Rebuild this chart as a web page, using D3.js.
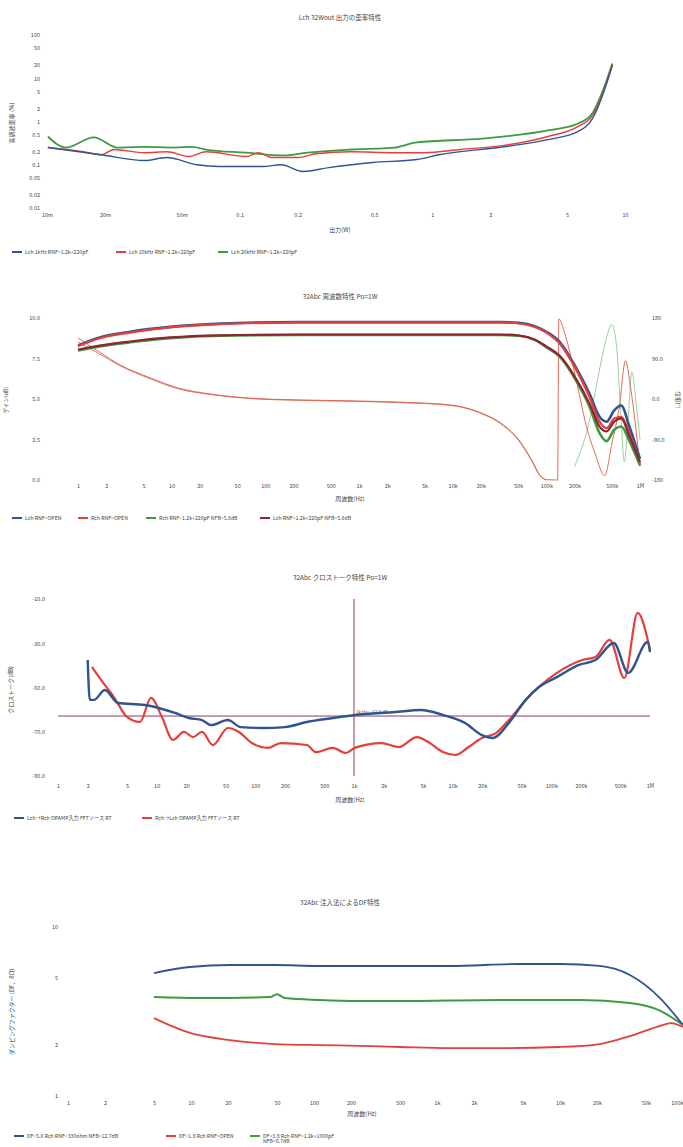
<!DOCTYPE html>
<html>
<head>
<meta charset="utf-8">
<script src="https://cdn.jsdelivr.net/npm/d3@7"></script>
<style>
  body { margin: 0; background: #fff; }
  svg text { font-family: "Noto Sans CJK JP", "Noto Sans", sans-serif; fill: #444; }
</style>
</head>
<body>
<div id="chart"></div>
<script>
// ---- chart 1 : THD vs output power ----
const thdTicksX = [0.01, 0.02, 0.05, 0.1, 0.2, 0.5, 1, 2, 5, 10];
const thdTickLabelsX = ["10m", "20m", "50m", "0.1", "0.2", "0.5", "1", "2", "5", "10"];
const thdTicksY = [100, 50, 20, 10, 5, 2, 1, 0.5, 0.2, 0.1, 0.05, 0.02, 0.01];
const thdTickLabelsY = ["100", "50", "20", "10", "5", "2", "1", "0.5", "0.2", "0.1", "0.05", "0.02", "0.01"];
const thd1k = [[0.0101,0.25],[0.0191,0.17],[0.0322,0.125],[0.0419,0.147],[0.06,0.1],[0.078,0.091],[0.132,0.091],[0.164,0.1],[0.213,0.07],[0.29,0.086],[0.49,0.113],[0.83,0.132],[1.08,0.17],[2.35,0.26],[3.98,0.38],[5.72,0.59],[6.8,1.2],[7.5,3.2],[8.1,8.5],[8.6,20]];
const thd10k = [[0.0101,0.25],[0.0154,0.2],[0.0191,0.17],[0.0223,0.225],[0.0322,0.19],[0.0419,0.2],[0.0546,0.155],[0.0668,0.2],[0.108,0.155],[0.126,0.19],[0.147,0.147],[0.201,0.147],[0.249,0.18],[0.378,0.2],[0.64,0.19],[0.91,0.19],[1.4,0.225],[2.35,0.28],[3.98,0.45],[5.72,0.77],[6.8,1.4],[7.5,3.5],[8.1,9],[8.6,21]];
const thd20k = [[0.0101,0.45],[0.0125,0.25],[0.0175,0.43],[0.0233,0.25],[0.0322,0.26],[0.046,0.25],[0.057,0.26],[0.0668,0.225],[0.108,0.19],[0.171,0.164],[0.223,0.19],[0.378,0.225],[0.64,0.25],[0.83,0.33],[1.81,0.4],[3.98,0.62],[5.72,0.9],[6.8,1.6],[7.5,4],[8.1,10],[8.6,22]];
const thdLegend = ["Lch 1kHz RNF=1.2k+220pF", "Lch 10kHz RNF=1.2k+220pF", "Lch 20kHz RNF=1.2k+220pF"];

// ---- chart 2 : frequency response ----
const freqTicks = [1, 2, 5, 10, 20, 50, 100, 200, 500, 1e3, 2e3, 5e3, 1e4, 2e4, 5e4, 1e5, 2e5, 5e5, 1e6];
const freqTickLabels = ["1", "2", "5", "10", "20", "50", "100", "200", "500", "1k", "2k", "5k", "10k", "20k", "50k", "100k", "200k", "500k", "1M"];
const gainTicks = [10, 7.5, 5, 2.5, 0];
const gainTickLabels = ["10.0", "7.5", "5.0", "2.5", "0.0"];
const phaseTicks = [180, 90, 0, -90, -180];
const phaseTickLabels = ["180", "90.0", "0.0", "-90.0", "-180"];
const gainLchOpen = [[1,8.3],[1.7,8.8],[3.6,9.15],[9.6,9.45],[33,9.65],[230,9.75],[2700,9.75],[32000,9.75],[51000,9.7],[75000,9.5],[100000,9.15],[140000,8.5],[200000,7.1],[290000,5.3],[370000,3.9],[440000,3.6],[530000,4.3],[630000,4.6],[770000,3.3],[1000000,1.3]];
const gainRchOpen = [[1,8.25],[1.7,8.75],[3.6,9.1],[9.6,9.42],[33,9.62],[230,9.72],[2700,9.72],[32000,9.72],[51000,9.66],[75000,9.45],[100000,9.1],[140000,8.4],[200000,7.0],[290000,5.1],[370000,3.6],[440000,3.2],[530000,3.8],[630000,3.9],[770000,2.9],[1000000,1.0]];
const gainRchNfb = [[1,8.0],[1.7,8.25],[3.6,8.5],[9.6,8.75],[33,8.9],[230,8.95],[32000,8.95],[51000,8.9],[75000,8.65],[100000,8.2],[140000,7.6],[200000,6.3],[290000,4.5],[370000,2.9],[440000,2.4],[530000,3.1],[630000,3.3],[770000,2.4],[1000000,0.9]];
const gainLchNfb = [[1,8.05],[1.7,8.3],[3.6,8.55],[9.6,8.8],[33,8.93],[230,8.98],[32000,8.98],[51000,8.92],[75000,8.68],[100000,8.25],[140000,7.65],[200000,6.4],[290000,4.7],[370000,3.3],[440000,3.0],[530000,3.6],[630000,3.8],[770000,2.7],[1000000,1.1]];
const phaseRchOpen = [[1,136],[1.7,104],[2.8,76],[5.9,47],[12,24],[26,11],[68,2],[230,-2],[800,-4],[2700,-7],[9300,-13],[19000,-29],[35000,-58],[51000,-91],[70000,-136],[85000,-169],[100000,-179],[132000,-180],[136000,178],[155000,150],[180000,100],[215000,30],[260000,-50],[330000,-120],[420000,-170],[500000,-100],[600000,-20],[700000,85],[800000,20],[1000000,-150]];
const phaseLchNfb = [[1,127],[1.7,100],[2.8,74],[5.9,45],[12,22],[26,10],[68,1],[230,-3],[800,-5],[2700,-8],[9300,-14],[19000,-30],[35000,-60],[51000,-93],[70000,-138],[85000,-170],[100000,-180]];
const phaseRchNfb = [[200000,-150],[280000,-60],[350000,40],[420000,120],[500000,165],[560000,120],[620000,-20],[680000,-140],[740000,-60],[820000,60],[900000,0],[1000000,-90]];
const respLegend = ["Lch RNF=OPEN", "Rch RNF=OPEN", "Rch RNF=1.2k+220pF NFB=5.8dB", "Lch RNF=1.2k+220pF NFB=5.8dB"];

// ---- chart 3 : crosstalk ----
const xtalkTicks = [-10, -30, -50, -70, -90];
const xtalkTickLabels = ["-10.0", "-30.0", "-50.0", "-70.0", "-90.0"];
const xtalkLtoR = [[2.0,-37.6],[2.1,-55.6],[2.32,-55.6],[2.99,-51.1],[4.05,-57],[7.6,-57.9],[15.3,-61.5],[21.2,-63.8],[28.8,-64.7],[35.5,-67],[52.7,-64.7],[71.3,-67.9],[119,-68.3],[199,-67.9],[333,-65.6],[610,-63.8],[1017,-62.4],[2600,-61.1],[4750,-60.2],[7950,-62.4],[13300,-66],[19800,-71.5],[25600,-72.8],[37200,-66],[55000,-55.6],[75000,-49.8],[114000,-45.3],[190000,-39.8],[280000,-37.6],[430000,-29.9],[600000,-43.4],[950000,-29.4],[1000000,-34]];
const xtalkRtoL = [[2.21,-40.7],[2.73,-46.6],[3.69,-54.3],[5.0,-63.3],[6.77,-65.6],[8.77,-54.7],[11.3,-63.3],[14.6,-73.7],[18.9,-70.1],[23.4,-72.4],[28.8,-70.1],[37.1,-76],[52.7,-68.3],[68.1,-70.1],[92.1,-75.1],[134,-77.3],[181,-75.1],[333,-76],[410,-79.2],[610,-77.3],[826,-79.6],[1017,-77.3],[1905,-75.1],[2830,-76.9],[4350,-72.4],[5860,-75.1],[7950,-79.2],[10700,-80.5],[14500,-76.9],[19800,-72.8],[27500,-70.6],[37200,-64.7],[55000,-55.6],[114000,-43.4],[206000,-37.6],[280000,-36.2],[390000,-28.5],[550000,-45.7],[750000,-16.3],[965000,-29.9],[1000000,-33]];
const xtalkMarker = [1000, -62.9];
const xtalkLegend = ["Lch→Rch OPAMP入力 FFTソース RT", "Rch→Lch OPAMP入力 FFTソース RT"];

// ---- chart 4 : damping factor ----
const dfTicksX = [1, 2, 5, 10, 20, 50, 100, 200, 500, 1e3, 2e3, 5e3, 1e4, 2e4, 5e4, 1e5];
const dfTickLabelsX = ["1", "2", "5", "10", "20", "50", "100", "200", "500", "1k", "2k", "5k", "10k", "20k", "50k", "100k"];
const dfTicksY = [10, 5, 2, 1];
const dfNfb12 = [[5,5.34],[9.8,5.8],[20.7,5.96],[48,5.96],[111,5.88],[500,5.88],[1270,5.88],[4700,6.04],[10000,6.04],[21000,5.88],[37000,5.2],[65000,3.8],[100000,2.63]];
const dfOpen = [[5,2.89],[9.8,2.36],[20.7,2.14],[48,2.03],[111,2.0],[236,1.98],[500,1.95],[1270,1.92],[3250,1.92],[10000,1.95],[21000,2.03],[37000,2.26],[65000,2.6],[80000,2.7],[100000,2.56]];
const dfNfb6 = [[5,3.85],[11.8,3.8],[44,3.85],[50,4.0],[58,3.8],[111,3.7],[236,3.65],[500,3.65],[3250,3.7],[14600,3.7],[37000,3.55],[65000,3.2],[100000,2.63]];
const dfLegend = ["DF=5.6 Rch RNF=330ohm NFB=12.7dB", "DF=1.9 Rch RNF=OPEN", "DF=3.8 Rch RNF=1.2k+1000pF"];

const width = 683;
const height = 1147;
const blue = "#30548f";
const red = "#e3403b";
const green = "#3f9a42";
const maroon = "#8f2433";

let svg = d3.select("#chart")
            .append("svg")
            .attr("width", width)
            .attr("height", height);

function addText(x, y, txt, size, anchor, rotate) {
  let t = svg.append("text")
     .attr("x", x)
     .attr("y", y)
     .attr("font-size", size)
     .attr("text-anchor", anchor || "middle")
     .text(txt);
  if (rotate) t.attr("transform", `rotate(${rotate},${x},${y})`);
  return t;
}

function axisX(scale, y, ticks, labels) {
  let g = svg.append("g")
     .attr("transform", `translate(0,${y})`)
     .call(d3.axisBottom(scale).tickValues(ticks).tickFormat((d, i) => labels[i]).tickSize(0).tickPadding(0))
     .attr("font-size", 5.5)
     .attr("font-family", null)
     .call(g => g.select(".domain").remove());
  return g;
}

function axisY(scale, x, ticks, labels, right) {
  let ax = right ? d3.axisRight(scale) : d3.axisLeft(scale);
  svg.append("g")
     .attr("transform", `translate(${x},0)`)
     .call(ax.tickValues(ticks).tickFormat((d, i) => labels[i]).tickSize(0).tickPadding(0))
     .attr("font-size", 5.5)
     .attr("font-family", null)
     .call(g => g.select(".domain").remove());
}

function drawSeries(data, x, y, color, w, clip) {
  let line = d3.line()
               .x(d => x(d[0]))
               .y(d => y(d[1]))
               .curve(d3.curveMonotoneX);
  let p = svg.append("path")
     .datum(data)
     .attr("d", line)
     .attr("fill", "none")
     .attr("stroke", color)
     .attr("stroke-width", w)
     .attr("stroke-linejoin", "round");
  if (clip) p.attr("clip-path", `url(#${clip})`);
}

function addClip(id, x0, y0, x1, y1) {
  svg.append("clipPath").attr("id", id)
     .append("rect").attr("x", x0).attr("y", y0).attr("width", x1 - x0).attr("height", y1 - y0);
}

function legend(items, colors, xs, y) {
  items.forEach((label, i) => {
    svg.append("line")
       .attr("x1", xs[i]).attr("x2", xs[i] + 10)
       .attr("y1", y).attr("y2", y)
       .attr("stroke", colors[i]).attr("stroke-width", 2);
    addText(xs[i] + 13, y + 2, label, 5.2, "start");
  });
}

// chart 1
function drawThd() {
  let x = d3.scaleLog().domain([0.01, 10]).range([47, 625]);
  let y = d3.scaleLog().domain([0.01, 100]).range([208, 35]);
  addText(340, 20, "Lch 32Wout 出力の歪率特性", 6.5);
  axisY(y, 40, thdTicksY, thdTickLabelsY);
  axisX(x, 213, thdTicksX, thdTickLabelsX);
  addText(340, 232, "出力(W)", 6);
  addText(14, 123, "高調波歪率 (%)", 6, "middle", -90);
  addClip("clip1", 40, 30, 640, 210);
  drawSeries(thd20k, x, y, green, 1.8, "clip1");
  drawSeries(thd10k, x, y, red, 1.4, "clip1");
  drawSeries(thd1k, x, y, blue, 1.4, "clip1");
  legend(thdLegend, [blue, red, green], [12, 116, 218], 252);
}

// chart 2
function drawResponse() {
  let x = d3.scaleLog().domain([1, 1e6]).range([78, 640]);
  let y = d3.scaleLinear().domain([0, 10]).range([480, 318]);
  let yp = d3.scaleLinear().domain([-180, 180]).range([480, 318]);
  addText(340, 299, "32Abc 周波数特性 Po=1W", 6.5);
  axisY(y, 40, gainTicks, gainTickLabels);
  axisY(yp, 652, phaseTicks, phaseTickLabels, true);
  axisX(x, 484, freqTicks, freqTickLabels);
  addText(350, 501, "周波数(Hz)", 6);
  addText(8, 400, "ゲイン(dB)", 5.5, "middle", -90);
  addText(676, 400, "位相(°)", 5.5, "middle", 90);
  addClip("clip2", 60, 316, 645, 482);
  drawSeries(phaseLchNfb, x, yp, "#c47650", 0.9, "clip2");
  drawSeries(phaseRchNfb, x, yp, "#8fcb8f", 0.9, "clip2");
  drawSeries(phaseRchOpen, x, yp, "#df5a48", 0.9, "clip2");
  drawSeries(gainLchOpen, x, y, blue, 2.6, "clip2");
  drawSeries(gainRchOpen, x, y, red, 2.2, "clip2");
  drawSeries(gainRchNfb, x, y, green, 2.6, "clip2");
  drawSeries(gainLchNfb, x, y, maroon, 2.2, "clip2");
  legend(respLegend, [blue, red, green, maroon], [12, 78, 146, 260], 518);
}

// chart 3
function drawCrosstalk() {
  let x = d3.scaleLog().domain([1, 1e6]).range([58, 650]);
  let y = d3.scaleLinear().domain([-90, -10]).range([776, 599]);
  addText(340, 580, "32Abc クロストーク特性 Po=1W", 6.5);
  axisY(y, 45, xtalkTicks, xtalkTickLabels);
  axisX(x, 784, freqTicks, freqTickLabels);
  addText(350, 802, "周波数(Hz)", 6);
  addText(13, 690, "クロストーク(dB)", 6, "middle", -90);
  svg.append("line")
     .attr("x1", x(1)).attr("x2", x(1e6))
     .attr("y1", y(xtalkMarker[1])).attr("y2", y(xtalkMarker[1]))
     .attr("stroke", "#8e3a5e").attr("stroke-width", 1);
  svg.append("line")
     .attr("x1", x(xtalkMarker[0])).attr("x2", x(xtalkMarker[0]))
     .attr("y1", y(-10)).attr("y2", y(-90))
     .attr("stroke", "#8e3a5e").attr("stroke-width", 1);
  addText(x(xtalkMarker[0]) + 2, y(xtalkMarker[1]) - 2, "1k Hz : -62.9 dB", 4.5, "start");
  addClip("clip3", 55, 595, 652, 780);
  drawSeries(xtalkRtoL, x, y, red, 2.2, "clip3");
  drawSeries(xtalkLtoR, x, y, blue, 2.4, "clip3");
  legend(xtalkLegend, [blue, red], [14, 142], 818);
}

// chart 4
function drawDf() {
  let x = d3.scaleLog().domain([1, 1e5]).range([68, 683]);
  let y = d3.scaleLog().domain([1, 10]).range([1096, 927]);
  addText(340, 905, "32Abc 注入法によるDF特性", 6.5);
  axisY(y, 58, dfTicksY, dfTicksY.map(String));
  let ax = axisX(x, 1101, dfTicksX, dfTickLabelsX);
  // last label sits on the page edge, keep it inside
  ax.selectAll(".tick text").filter(d => d === 1e5).attr("text-anchor", "end");
  addText(362, 1116, "周波数(Hz)", 6);
  addText(14, 1012, "ダンピングファクター (DF、8Ω)", 6, "middle", -90);
  addClip("clip4", 60, 920, 683, 1098);
  drawSeries(dfNfb6, x, y, green, 2, "clip4");
  drawSeries(dfOpen, x, y, red, 1.8, "clip4");
  drawSeries(dfNfb12, x, y, blue, 1.8, "clip4");
  legend(dfLegend, [blue, red, green], [14, 166, 250], 1136);
  addText(263, 1143, "NFB=6.7dB", 5.2, "start");
}

drawThd();
drawResponse();
drawCrosstalk();
drawDf();
</script>
</body>
</html>
